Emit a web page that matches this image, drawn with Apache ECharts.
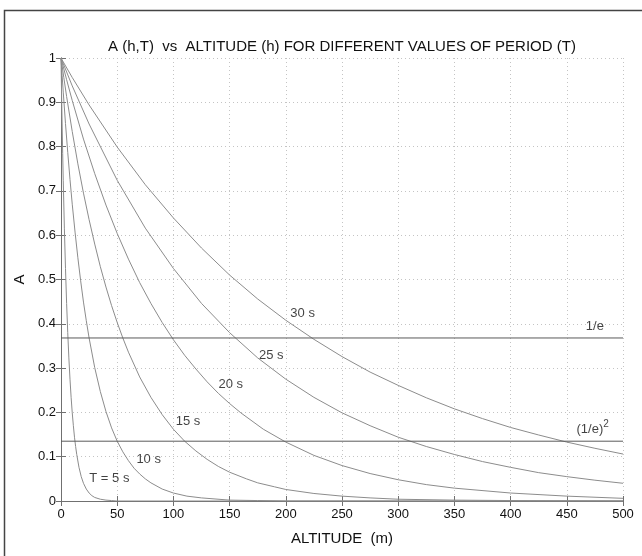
<!DOCTYPE html>
<html>
<head>
<meta charset="utf-8">
<script src="https://cdn.jsdelivr.net/npm/echarts@6/dist/echarts.min.js"></script>
<style>
  html, body { margin: 0; padding: 0; background: #fff; }
  #chart { width: 642px; height: 556px; }
</style>
</head>
<body>
<div id="chart"></div>
<script>
// readings: [altitude m, A]
var curveT30 = [[0, 1], [10, 0.956], [25, 0.894], [50, 0.799], [75, 0.714], [100, 0.639], [125, 0.571], [150, 0.510], [175, 0.456], [200, 0.408], [225, 0.365], [250, 0.326], [275, 0.291], [300, 0.261], [325, 0.233], [350, 0.208], [375, 0.186], [400, 0.166], [425, 0.149], [450, 0.133], [475, 0.119], [500, 0.106]]
var curveT25 = [[0, 1], [10, 0.937], [25, 0.851], [50, 0.724], [75, 0.616], [100, 0.525], [125, 0.446], [150, 0.380], [175, 0.323], [200, 0.275], [225, 0.234], [250, 0.199], [275, 0.170], [300, 0.144], [325, 0.123], [350, 0.105], [375, 0.089], [400, 0.076], [425, 0.064], [450, 0.055], [475, 0.047], [500, 0.040]]
var curveT20 = [[0, 1], [5, 0.951], [10, 0.904], [20, 0.817], [30, 0.739], [40, 0.668], [50, 0.604], [60, 0.546], [70, 0.493], [80, 0.446], [90, 0.403], [100, 0.364], [110, 0.329], [120, 0.298], [130, 0.269], [140, 0.243], [150, 0.220], [160, 0.199], [180, 0.162], [200, 0.133], [225, 0.103], [250, 0.080], [275, 0.062], [300, 0.048], [325, 0.037], [350, 0.029], [400, 0.018], [450, 0.011], [500, 0.006]]
var curveT15 = [[0, 1], [2.5, 0.956], [5, 0.913], [10, 0.834], [15, 0.761], [20, 0.695], [25, 0.635], [30, 0.580], [35, 0.529], [40, 0.483], [45, 0.441], [50, 0.403], [55, 0.368], [60, 0.336], [70, 0.280], [80, 0.234], [90, 0.195], [100, 0.162], [110, 0.135], [120, 0.113], [130, 0.094], [140, 0.078], [150, 0.065], [165, 0.050], [175, 0.041], [190, 0.032], [200, 0.026], [225, 0.017], [250, 0.011], [275, 0.007], [300, 0.004], [350, 0.002], [400, 0.001], [500, 0]]
var curveT10 = [[0, 1], [1, 0.961], [2, 0.923], [4, 0.852], [6, 0.787], [8, 0.726], [10, 0.670], [12.5, 0.607], [15, 0.549], [17.5, 0.497], [20, 0.449], [22.5, 0.407], [25, 0.368], [30, 0.301], [35, 0.247], [40, 0.202], [45, 0.165], [50, 0.135], [55, 0.111], [60, 0.091], [65, 0.074], [70, 0.061], [75, 0.050], [80, 0.041], [90, 0.027], [100, 0.018], [112, 0.011], [125, 0.007], [150, 0.002], [175, 0.001], [200, 0], [500, 0]]
var curveT5 = [[0, 1], [0.5, 0.923], [1, 0.851], [1.5, 0.785], [2, 0.724], [3, 0.616], [4, 0.525], [5, 0.446], [6, 0.380], [7, 0.323], [8, 0.275], [9, 0.234], [10, 0.199], [11, 0.170], [12, 0.144], [13, 0.123], [14, 0.105], [16, 0.076], [18, 0.055], [20, 0.040], [22.5, 0.027], [25, 0.018], [27.5, 0.012], [30, 0.008], [35, 0.004], [40, 0.002], [45, 0.001], [50, 0], [500, 0]]

var levelOneOverE = 0.368
var levelOneOverE2 = 0.135

// text annotations: [altitude, A, text]
var curveLabels = [
  [215, 0.424, '30 s'],
  [187, 0.328, '25 s'],
  [151, 0.264, '20 s'],
  [113, 0.179, '15 s'],
  [78, 0.094, '10 s'],
  [43, 0.050, 'T = 5 s'],
  [475, 0.393, '1/e'],
  [473, 0.162, '(1/e){sup|2}']
]

var xTicks = { min: 0, max: 500, interval: 50 }
var yTicks = { min: 0, max: 1, interval: 0.1 }

var font = '"Liberation Sans", Arial, Helvetica, sans-serif'
var curveColor = '#8c8c8c'
var refColor = '#5a5a5a'
var boxColor = '#707070'

function curveSeries (data) {
  return {
    type: 'line',
    data: data,
    showSymbol: false,
    lineStyle: { color: curveColor, width: 1 },
    silent: true,
    z: 3
  }
}

function levelSeries (value) {
  return {
    type: 'line',
    data: [[xTicks.min, value], [xTicks.max, value]],
    showSymbol: false,
    lineStyle: { color: refColor, width: 1 },
    silent: true,
    z: 4
  }
}

var labelSeries = {
  type: 'scatter',
  symbolSize: 0,
  data: curveLabels.map(function (d) { return { value: [d[0], d[1]], name: d[2] } }),
  label: {
    show: true,
    position: 'inside',
    formatter: function (p) { return p.name },
    color: '#111',
    fontFamily: font,
    fontSize: 13,
    rich: {
      sup: { fontSize: 10, fontFamily: font, color: '#111', padding: [0, 0, 9, 0] }
    }
  },
  silent: true,
  z: 6
}

function boxAxis (extra) {
  var a = {
    type: 'value',
    axisLine: { show: true, lineStyle: { color: boxColor, width: 1 } },
    axisTick: { show: true, inside: true, length: 5, lineStyle: { color: boxColor } },
    axisLabel: { show: false },
    splitLine: { show: false }
  }
  for (var k in extra) a[k] = extra[k]
  return a
}

var chart = echarts.init(document.getElementById('chart'))
chart.setOption({
  animation: false,
  backgroundColor: '#fff',
  grid: { left: 61, right: 19, top: 58, bottom: 55 },
  graphic: [
    {
      type: 'polyline',
      shape: { points: [[4.5, 560], [4.5, 10.5], [650, 10.5]] },
      style: { stroke: '#444', lineWidth: 1.5, fill: null }
    },
    {
      type: 'text',
      x: 342,
      y: 47,
      style: {
        text: 'A (h,T)  vs  ALTITUDE (h) FOR DIFFERENT VALUES OF PERIOD (T)',
        font: '15px ' + font,
        fill: '#111',
        textAlign: 'center',
        textVerticalAlign: 'middle'
      }
    }
  ],
  xAxis: [
    boxAxis({
      min: xTicks.min, max: xTicks.max, interval: xTicks.interval,
      position: 'bottom',
      name: 'ALTITUDE  (m)',
      nameLocation: 'middle',
      nameGap: 30,
      nameTextStyle: { color: '#111', fontSize: 15, fontFamily: font },
      axisLabel: { show: true, color: '#111', fontSize: 13, fontFamily: font, margin: 7 },
      splitLine: { show: true, lineStyle: { color: '#c4c4c4', type: [1, 3], width: 1 } }
    }),
    boxAxis({ min: xTicks.min, max: xTicks.max, interval: xTicks.interval, position: 'top' })
  ],
  yAxis: [
    boxAxis({
      min: yTicks.min, max: yTicks.max, interval: yTicks.interval,
      position: 'left',
      name: 'A',
      nameLocation: 'middle',
      nameGap: 31,
      nameTextStyle: { color: '#111', fontSize: 15, fontFamily: font },
      axisLabel: { show: true, color: '#111', fontSize: 13, fontFamily: font, margin: 5 },
      splitLine: { show: true, lineStyle: { color: '#c4c4c4', type: [1, 3], width: 1 } }
    }),
    boxAxis({ min: yTicks.min, max: yTicks.max, interval: yTicks.interval, position: 'right' })
  ],
  series: [
    curveSeries(curveT30),
    curveSeries(curveT25),
    curveSeries(curveT20),
    curveSeries(curveT15),
    curveSeries(curveT10),
    curveSeries(curveT5),
    levelSeries(levelOneOverE),
    levelSeries(levelOneOverE2),
    labelSeries
  ]
})
</script>
</body>
</html>
